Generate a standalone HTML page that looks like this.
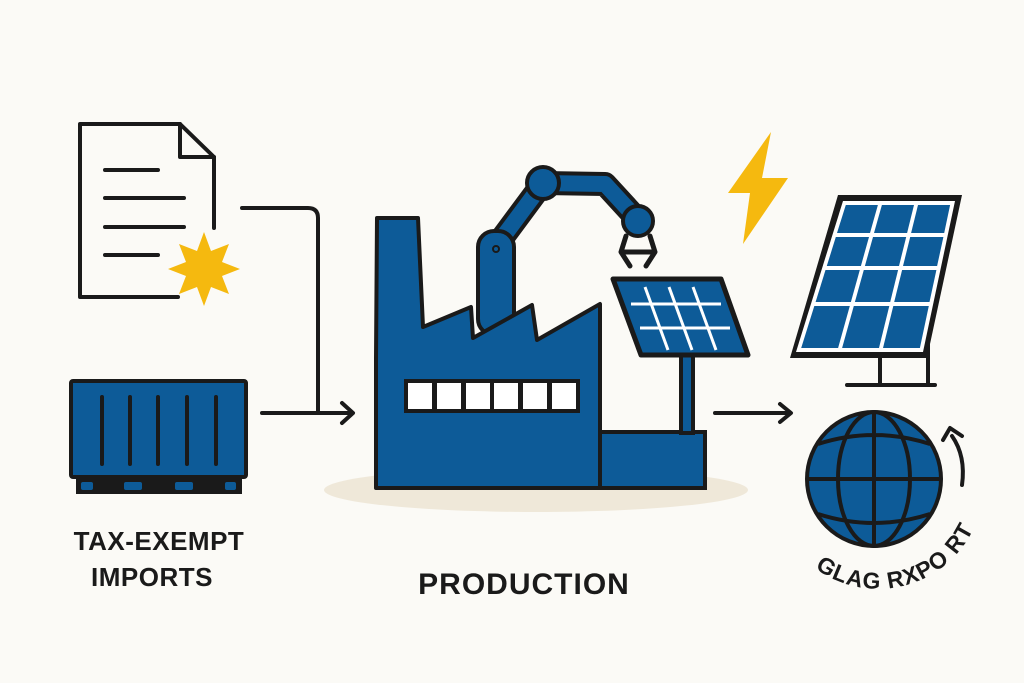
<!DOCTYPE html>
<html><head><meta charset="utf-8"><style>
html,body{margin:0;padding:0;background:#fbfaf6;}
svg{display:block;}
text{font-family:"Liberation Sans",sans-serif;font-weight:bold;fill:#1a1a1a;}
</style></head><body>
<svg width="1024" height="683" viewBox="0 0 1024 683" xmlns="http://www.w3.org/2000/svg">
<rect width="1024" height="683" fill="#fbfaf6"/>
<g fill="none" stroke="#1a1a1a" stroke-width="4" stroke-linecap="round" stroke-linejoin="round">
 <path d="M214,228 L214,157 L180,124 L80,124 L80,297 L178,297"/>
 <path d="M180,124 L180,157 L214,157"/>
 <path d="M105,170 H158 M105,198 H184 M105,227 H184 M105,255 H158"/>
 <path d="M242,208 H308 Q318,208 318,218 V413"/>
 <path d="M262,413 H352 M342,403 L353,413 L342,423"/>
 <path d="M715,413 H790 M780,404 L791,413 L780,422"/>
</g>
<polygon fill="#f5b90f" points="204,232 211,251 229,244 222,262 240,269 222,276 229,294 211,287 204,306 197,287 179,294 186,276 168,269 186,262 179,244 197,251"/>
<rect x="71" y="381" width="175" height="96" fill="#0d5b98" stroke="#1a1a1a" stroke-width="4" rx="2"/>
<g stroke="#1a1a1a" stroke-width="4" stroke-linecap="round"><path d="M102,397V464M130,397V464M158,397V464M187,397V464M216,397V464"/></g>
<rect x="76" y="477" width="166" height="17" fill="#1a1a1a"/>
<g fill="#0d5b98"><rect x="81" y="482" width="12" height="8" rx="2"/><rect x="124" y="482" width="18" height="8" rx="2"/><rect x="175" y="482" width="18" height="8" rx="2"/><rect x="225" y="482" width="11" height="8" rx="2"/></g>
<ellipse cx="536" cy="490" rx="212" ry="22" fill="#efe8d9"/>
<g stroke="#1a1a1a" stroke-width="4" fill="#0d5b98" stroke-linejoin="round">
 <path d="M497,245 L543,183 L605,184 L638,220" stroke="#1a1a1a" stroke-width="24" fill="none" stroke-linecap="round"/>
 <path d="M497,245 L543,183 L605,184 L638,220" stroke="#0d5b98" stroke-width="16" fill="none" stroke-linecap="round"/>
 <circle cx="543" cy="183" r="16"/>
 <circle cx="638" cy="221" r="15"/>
 <path d="M626,236 L621,252 L630,266 M650,236 L655,252 L646,266 M622,252 H654" fill="none" stroke-width="5" stroke-linecap="round"/>
 <rect x="478" y="231" width="36" height="104" rx="16"/>
</g>
<circle cx="496" cy="249" r="3" fill="none" stroke="#1a1a1a" stroke-width="2"/>
<polygon fill="#0d5b98" stroke="#1a1a1a" stroke-width="4" stroke-linejoin="round" points="376,488 376,358 377,218 418,218 423,327 471,307 473,338 532,305 537,340 600,304 600,488"/>
<rect x="600" y="432" width="105" height="56" fill="#0d5b98" stroke="#1a1a1a" stroke-width="4"/>
<rect x="404" y="379" width="176" height="34" fill="#1a1a1a"/>
<g fill="#fff"><rect x="408" y="383" width="24" height="26"/><rect x="437" y="383" width="24" height="26"/><rect x="466" y="383" width="24" height="26"/><rect x="494" y="383" width="24" height="26"/><rect x="523" y="383" width="24" height="26"/><rect x="552" y="383" width="24" height="26"/></g>
<rect x="681" y="355" width="12" height="78" fill="#0d5b98" stroke="#1a1a1a" stroke-width="4"/>
<polygon points="613,279 721,279 748,355 641,355" fill="#0d5b98" stroke="#1a1a1a" stroke-width="5" stroke-linejoin="round"/>
<g stroke="#fff" stroke-width="3"><path d="M631,304 H721 M640,328 H730 M645,287 L668,350 M669,287 L692,350 M693,287 L716,350"/></g>
<polygon fill="#f5b90f" points="771,132 728,193 750,193 743,244 788,178 762,178"/>
<g stroke="#1a1a1a" stroke-width="4" stroke-linecap="round"><path d="M880,356V384M928,330V384M847,385H935"/></g>
<polygon points="838,195 962,195 927,358 790,358" fill="#1a1a1a"/>
<polygon points="843,201 955,201 923,352 796,352" fill="#fff"/>
<g fill="#0d5b98">
<polygon points="845.8,205 877.9,205 870,233 837,233"/><polygon points="881.9,205 914,205 907.1,233 874,233"/><polygon points="918,205 950.1,205 944.2,233 911.1,233"/>
<polygon points="835.8,237 869,237 860.9,266 826.8,266"/><polygon points="873,237 906.2,237 899,266 864.9,266"/><polygon points="910.2,237 943.4,237 937.1,266 903,266"/>
<polygon points="825.5,270 859.8,270 850.9,302 815.6,302"/><polygon points="863.8,270 898.1,270 890.2,302 854.9,302"/><polygon points="902.1,270 936.4,270 929.5,302 894.2,302"/>
<polygon points="814.3,306 849.8,306 838.1,348 801.2,348"/><polygon points="853.8,306 889.3,306 879,348 842.1,348"/><polygon points="893.3,306 928.8,306 919.9,348 883,348"/>
</g>
<g stroke="#1a1a1a" stroke-width="4" fill="none">
 <circle cx="874" cy="479" r="67" fill="#0d5b98"/>
 <ellipse cx="874" cy="479" rx="36" ry="67"/>
 <path d="M874,412V546 M807,479H941 M818,444 Q874,426 930,444 M818,514 Q874,532 930,514"/>
</g>
<path d="M962,485 Q966,456 952,436" fill="none" stroke="#1a1a1a" stroke-width="4" stroke-linecap="round"/>
<path d="M943,440 L950,428 L962,436" fill="none" stroke="#1a1a1a" stroke-width="4" stroke-linecap="round" stroke-linejoin="round"/>
<defs><path id="arc" d="M815,568 A106,106 0 0 0 984,487"/></defs>
<text font-size="23" letter-spacing="1"><textPath href="#arc" startOffset="0">GLAG RXPO RT</textPath></text>
<text x="159" y="550" font-size="26" text-anchor="middle" letter-spacing="0.5">TAX-EXEMPT</text>
<text x="152" y="586" font-size="26" text-anchor="middle" letter-spacing="0.5">IMPORTS</text>
<text x="524" y="594" font-size="30" text-anchor="middle" letter-spacing="1">PRODUCTION</text>
</svg>
</body></html>
